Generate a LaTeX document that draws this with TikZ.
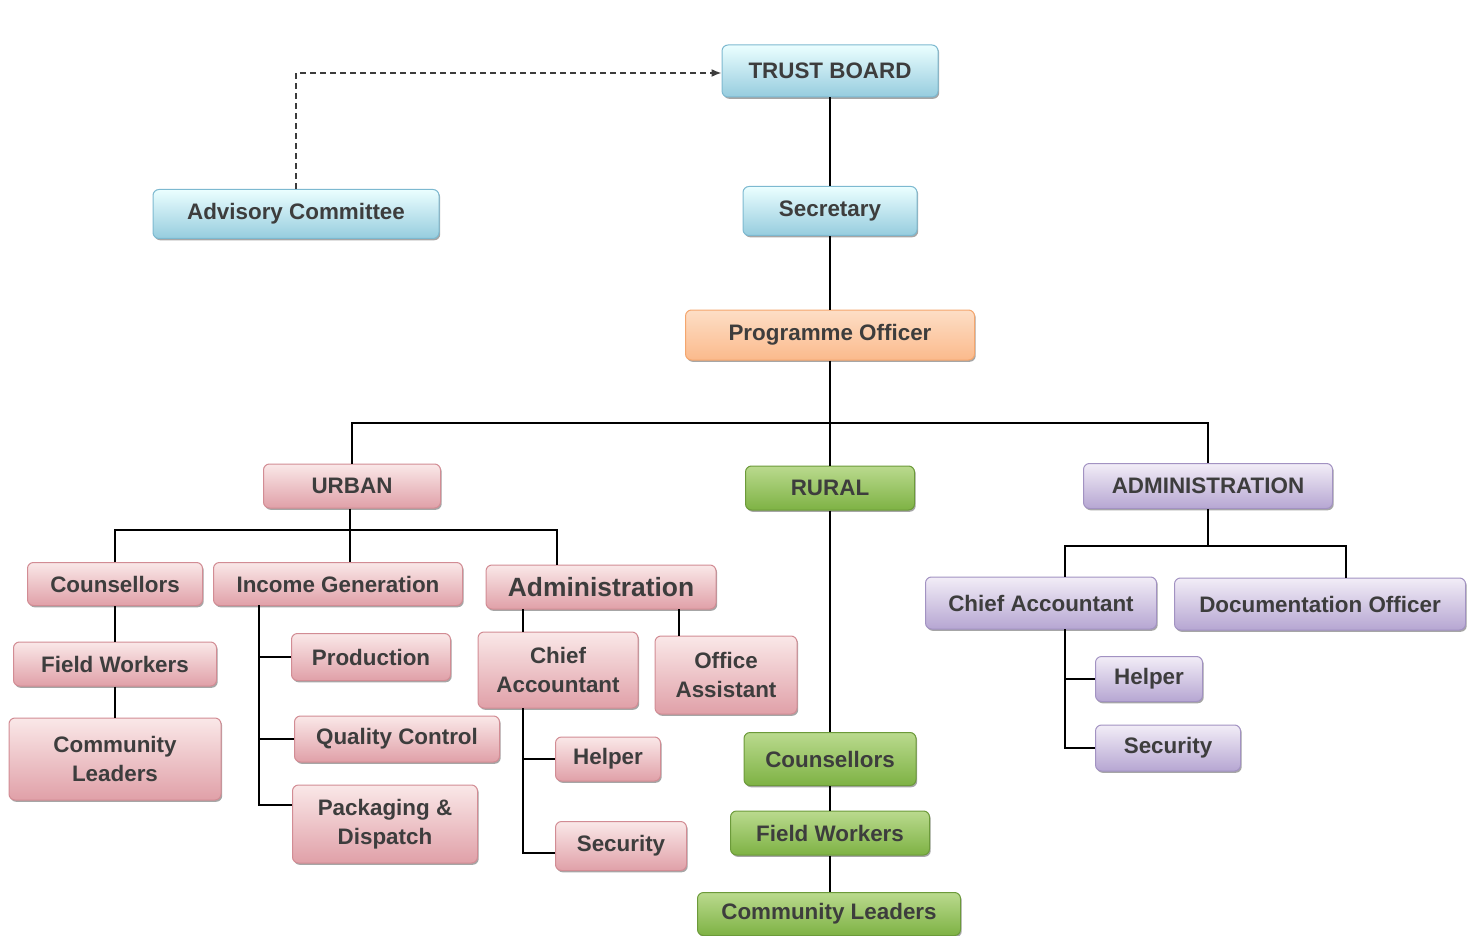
\documentclass[tikz,border=0pt]{standalone}
\usepackage{fontspec}
\setmainfont{Liberation Sans}
\usetikzlibrary{arrows.meta,shadows,calc}
\definecolor{txt}{HTML}{3D3D3D}
\begin{document}
\begin{tikzpicture}[x=0.5pt,y=-0.5pt,
  sz/.style 2 args={minimum width=#1*0.5pt, minimum height=#2*0.5pt},
  box/.style={rounded corners=3pt, inner sep=1pt, align=center, text=txt,
    font=\fontsize{11.2}{14.5}\selectfont\bfseries, line width=0.5pt,
    drop shadow={shadow xshift=0.6pt, shadow yshift=-0.9pt, fill=black, opacity=0.35}},
  bluebox/.style={box, top color=blue!3!cyan!8, bottom color={rgb,255:red,150;green,204;blue,222}, draw={rgb,255:red,125;green,185;blue,208}},
  orangebox/.style={box, top color={rgb,255:red,253;green,222;blue,198}, middle color={rgb,255:red,255;green,240;blue,228}, bottom color={rgb,255:red,251;green,186;blue,140}, draw={rgb,255:red,244;green,166;blue,110}},
  pinkbox/.style={box, top color={rgb,255:red,250;green,232;blue,232}, bottom color={rgb,255:red,224;green,160;blue,168}, draw={rgb,255:red,210;green,140;blue,148}},
  greenbox/.style={box, top color={rgb,255:red,186;green,218;blue,142}, bottom color={rgb,255:red,126;green,178;blue,68}, draw={rgb,255:red,108;green,154;blue,58}},
  purplebox/.style={box, top color={rgb,255:red,242;green,237;blue,247}, bottom color={rgb,255:red,182;green,166;blue,210}, draw={rgb,255:red,162;green,146;blue,194}},
  link/.style={line width=1.4pt, black},
  dashlink/.style={line width=0.8pt, draw={rgb,255:red,60;green,60;blue,60}, dash pattern=on 3pt off 2pt, -{Latex[length=5pt,width=4pt]}}
]
\useasboundingbox (0,0) rectangle (1477,936);

% top level
\node[bluebox, sz={216}{52}] (tb) at (830,71) {TRUST BOARD};
\node[bluebox, sz={286}{49}] (adv) at (296,214) {Advisory Committee};
\node[bluebox, sz={174}{49}] (sec) at (830,211) {Secretary};
\node[orangebox, sz={289}{50}] (po) at (830,335) {Programme Officer};

% second level
\node[pinkbox, sz={177}{44}] (urban) at (352,486) {URBAN};
\node[greenbox, sz={169}{44}] (rural) at (830,488) {RURAL};
\node[purplebox, sz={249}{45}] (adm) at (1208,486) {ADMINISTRATION};

% urban
\node[pinkbox, sz={175}{43}] (uc) at (115,584) {Counsellors};
\node[pinkbox, sz={249}{43}] (ig) at (338,584) {Income Generation};
\node[pinkbox, sz={230}{44}, font=\fontsize{13.2}{16}\selectfont\bfseries] (ua) at (601,587) {Administration};
\node[pinkbox, sz={203}{44}] (uf) at (115,664) {Field Workers};
\node[pinkbox, sz={212}{82}] (ul) at (115,759) {Community\\Leaders};
\node[pinkbox, sz={159}{47}] (prod) at (371,657) {Production};
\node[pinkbox, sz={205}{46}] (qc) at (397,739) {Quality Control};
\node[pinkbox, sz={185}{78}] (pack) at (385,824) {Packaging \&\\Dispatch};
\node[pinkbox, sz={160}{76}] (uca) at (558,670) {Chief\\Accountant};
\node[pinkbox, sz={142}{78}] (uoa) at (726,675) {Office\\Assistant};
\node[pinkbox, sz={105}{44}] (uh) at (608,759) {Helper};
\node[pinkbox, sz={131}{49}] (us) at (621,846) {Security};

% rural
\node[greenbox, sz={172}{53}] (rc) at (830,759) {Counsellors};
\node[greenbox, sz={199}{44}] (rf) at (830,833) {Field Workers};
\node[greenbox, sz={263}{43}] (rl) at (829,914) {Community Leaders};

% administration
\node[purplebox, sz={231}{52}] (aca) at (1041,603) {Chief Accountant};
\node[purplebox, sz={291}{52}] (doc) at (1320,604) {Documentation Officer};
\node[purplebox, sz={107}{45}] (ah) at (1149,679) {Helper};
\node[purplebox, sz={145}{46}] (asec) at (1168,748) {Security};

% helper coordinates
\coordinate (bar) at (830,423);
\coordinate (ubl) at (115,530);
\coordinate (ubm) at (350,530);
\coordinate (ubr) at (557,530);
\coordinate (igs) at (259,605);
\coordinate (ual) at (523,609);
\coordinate (uar) at (679,609);
\coordinate (ucs) at (523,708);
\coordinate (abl) at (1065,546);
\coordinate (abm) at (1208,546);
\coordinate (abr) at (1346,546);
\coordinate (acs) at (1065,629);

% connectors
\draw[dashlink] (adv.north) |- ([yshift=-1pt]tb.west);
\draw[link] (tb) -- (sec);
\draw[link] (sec) -- (po);
\draw[link] (po) -- (rural);
\draw[link] (urban.north) -- (urban.north |- bar) -- (adm.north |- bar) -- (adm.north);

\draw[link] (ubm |- urban.south) -- (ubm |- ig.north);
\draw[link] (uc.north) -- (ubl) -- (ubr) -- (ubr |- ua.north);
\draw[link] (uc) -- (uf);
\draw[link] (uf) -- (ul);
\draw[link] (igs) |- (prod.west);
\draw[link] (igs) |- (qc.west);
\draw[link] (igs) |- ($(pack.west)+(0,-19)$);
\draw[link] (ual) -- (ual |- uca.north);
\draw[link] (uar) -- (uar |- uoa.north);
\draw[link] (ucs) |- (uh.west);
\draw[link] (ucs) |- ($(us.west)+(0,7)$);

\draw[link] (rural) -- (rc);
\draw[link] (rc) -- (rf);
\draw[link] (rf) -- (rf |- rl.north);

\draw[link] (adm.south) -- (abm);
\draw[link] (abl |- aca.north) -- (abl) -- (abr) -- (abr |- doc.north);
\draw[link] (acs) |- (ah.west);
\draw[link] (acs) |- (asec.west);
\end{tikzpicture}
\end{document}
